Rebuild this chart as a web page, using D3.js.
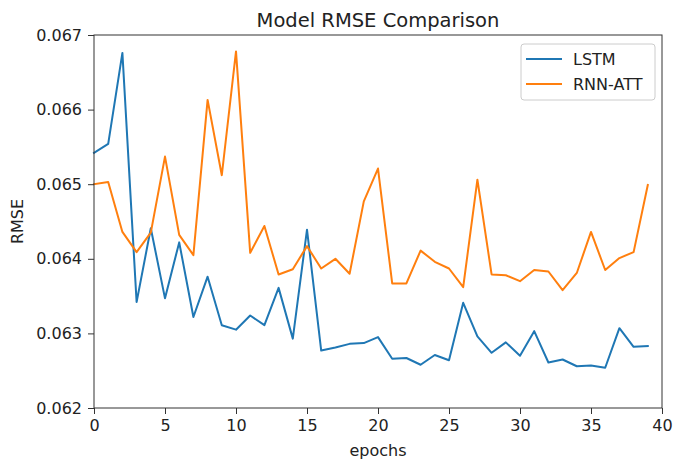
<!DOCTYPE html>
<html>
<head>
<meta charset="utf-8">
<script src="https://cdn.jsdelivr.net/npm/d3@7"></script>
<style>
  body { margin: 0; background: #fff; }
  text { font-family: "DejaVu Sans", sans-serif; fill: #222; }
</style>
</head>
<body>
<div class="container"></div>
<script>
let epochs = d3.range(40);
let lstm = [0.06542, 0.06554, 0.06676, 0.06342, 0.06441, 0.06347, 0.06422, 0.06322, 0.06376, 0.06311,
  0.06305, 0.06324, 0.06311, 0.06361, 0.06293, 0.06439, 0.06277, 0.06281, 0.06286, 0.06287,
  0.06295, 0.06266, 0.06267, 0.06258, 0.06271, 0.06264, 0.06341, 0.06296, 0.06274, 0.06288,
  0.06270, 0.06303, 0.06261, 0.06265, 0.06256, 0.06257, 0.06254, 0.06307, 0.06282, 0.06283];
let rnnAtt = [0.06500, 0.06503, 0.06436, 0.06409, 0.06435, 0.06537, 0.06432, 0.06405, 0.06613, 0.06512,
  0.06678, 0.06408, 0.06444, 0.06379, 0.06386, 0.06417, 0.06387, 0.06400, 0.06380, 0.06477,
  0.06521, 0.06367, 0.06367, 0.06411, 0.06396, 0.06387, 0.06362, 0.06506, 0.06379, 0.06378,
  0.06370, 0.06385, 0.06383, 0.06358, 0.06381, 0.06436, 0.06385, 0.06401, 0.06409, 0.06499];
let seriesNames = ['LSTM', 'RNN-ATT'];
let colors = ['#1f77b4', '#ff7f0e'];
let xTicks = [0, 5, 10, 15, 20, 25, 30, 35, 40];
let yTicks = [0.062, 0.063, 0.064, 0.065, 0.066, 0.067];

let margin = { top: 35, right: 11, bottom: 54, left: 94 };
let width = 673 - margin.left - margin.right;
let height = 462 - margin.top - margin.bottom;

let svg = d3
  .select('.container')
  .append('svg')
  .attr('width', 673)
  .attr('height', 462);

let g = svg
  .append('g')
  .attr('transform', 'translate(' + margin.left + ',' + margin.top + ')');

let xScale = d3.scaleLinear().domain([0, 40]).range([0, width]);
let yScale = d3.scaleLinear().domain([0.062, 0.067]).range([height, 0]);

// lines
let line = d3
  .line()
  .x((d, i) => xScale(epochs[i]))
  .y((d) => yScale(d));

[lstm, rnnAtt].forEach((vals, k) => {
  g.append('path')
    .datum(vals)
    .attr('fill', 'none')
    .attr('stroke', colors[k])
    .attr('stroke-width', 2)
    .attr('stroke-linejoin', 'round')
    .attr('stroke-linecap', 'square')
    .attr('d', line);
});

// axes
let xAxis = d3.axisBottom(xScale).tickValues(xTicks).tickFormat(d3.format('d')).tickSize(6).tickPadding(6);
let yAxis = d3.axisLeft(yScale).tickValues(yTicks).tickFormat(d3.format('.3f')).tickSize(6).tickPadding(6);

g.append('g')
  .attr('transform', 'translate(0,' + height + ')')
  .call(xAxis)
  .call((a) => a.select('.domain').remove());
g.append('g')
  .call(yAxis)
  .call((a) => a.select('.domain').remove());

g.selectAll('.tick text').attr('font-size', 16).style('font-family', '"DejaVu Sans", sans-serif').attr('fill', '#222');
g.selectAll('.tick line').attr('stroke', '#333').attr('stroke-width', 1);

// frame
g.append('rect')
  .attr('x', 0)
  .attr('y', 0)
  .attr('width', width)
  .attr('height', height)
  .attr('fill', 'none')
  .attr('stroke', '#333')
  .attr('stroke-width', 1);

// title + labels
svg.append('text')
  .attr('x', margin.left + width / 2)
  .attr('y', 27)
  .attr('text-anchor', 'middle')
  .attr('font-size', 19.5)
  .text('Model RMSE Comparison');

svg.append('text')
  .attr('x', margin.left + width / 2)
  .attr('y', 456)
  .attr('text-anchor', 'middle')
  .attr('font-size', 16)
  .text('epochs');

svg.append('text')
  .attr('transform', 'translate(23,' + (margin.top + height / 2) + ') rotate(-90)')
  .attr('text-anchor', 'middle')
  .attr('font-size', 16)
  .text('RMSE');

// legend
let legend = svg.append('g').attr('transform', 'translate(521,44)');
legend.append('rect')
  .attr('width', 134)
  .attr('height', 56)
  .attr('rx', 3)
  .attr('fill', '#fff')
  .attr('fill-opacity', 0.8)
  .attr('stroke', '#ccc');

seriesNames.forEach((name, k) => {
  let yy = 15 + k * 25;
  legend.append('line')
    .attr('x1', 5)
    .attr('x2', 41)
    .attr('y1', yy)
    .attr('y2', yy)
    .attr('stroke', colors[k])
    .attr('stroke-width', 2);
  legend.append('text')
    .attr('x', 52)
    .attr('y', yy + 6)
    .attr('font-size', 16)
    .text(name);
});
</script>
</body>
</html>
